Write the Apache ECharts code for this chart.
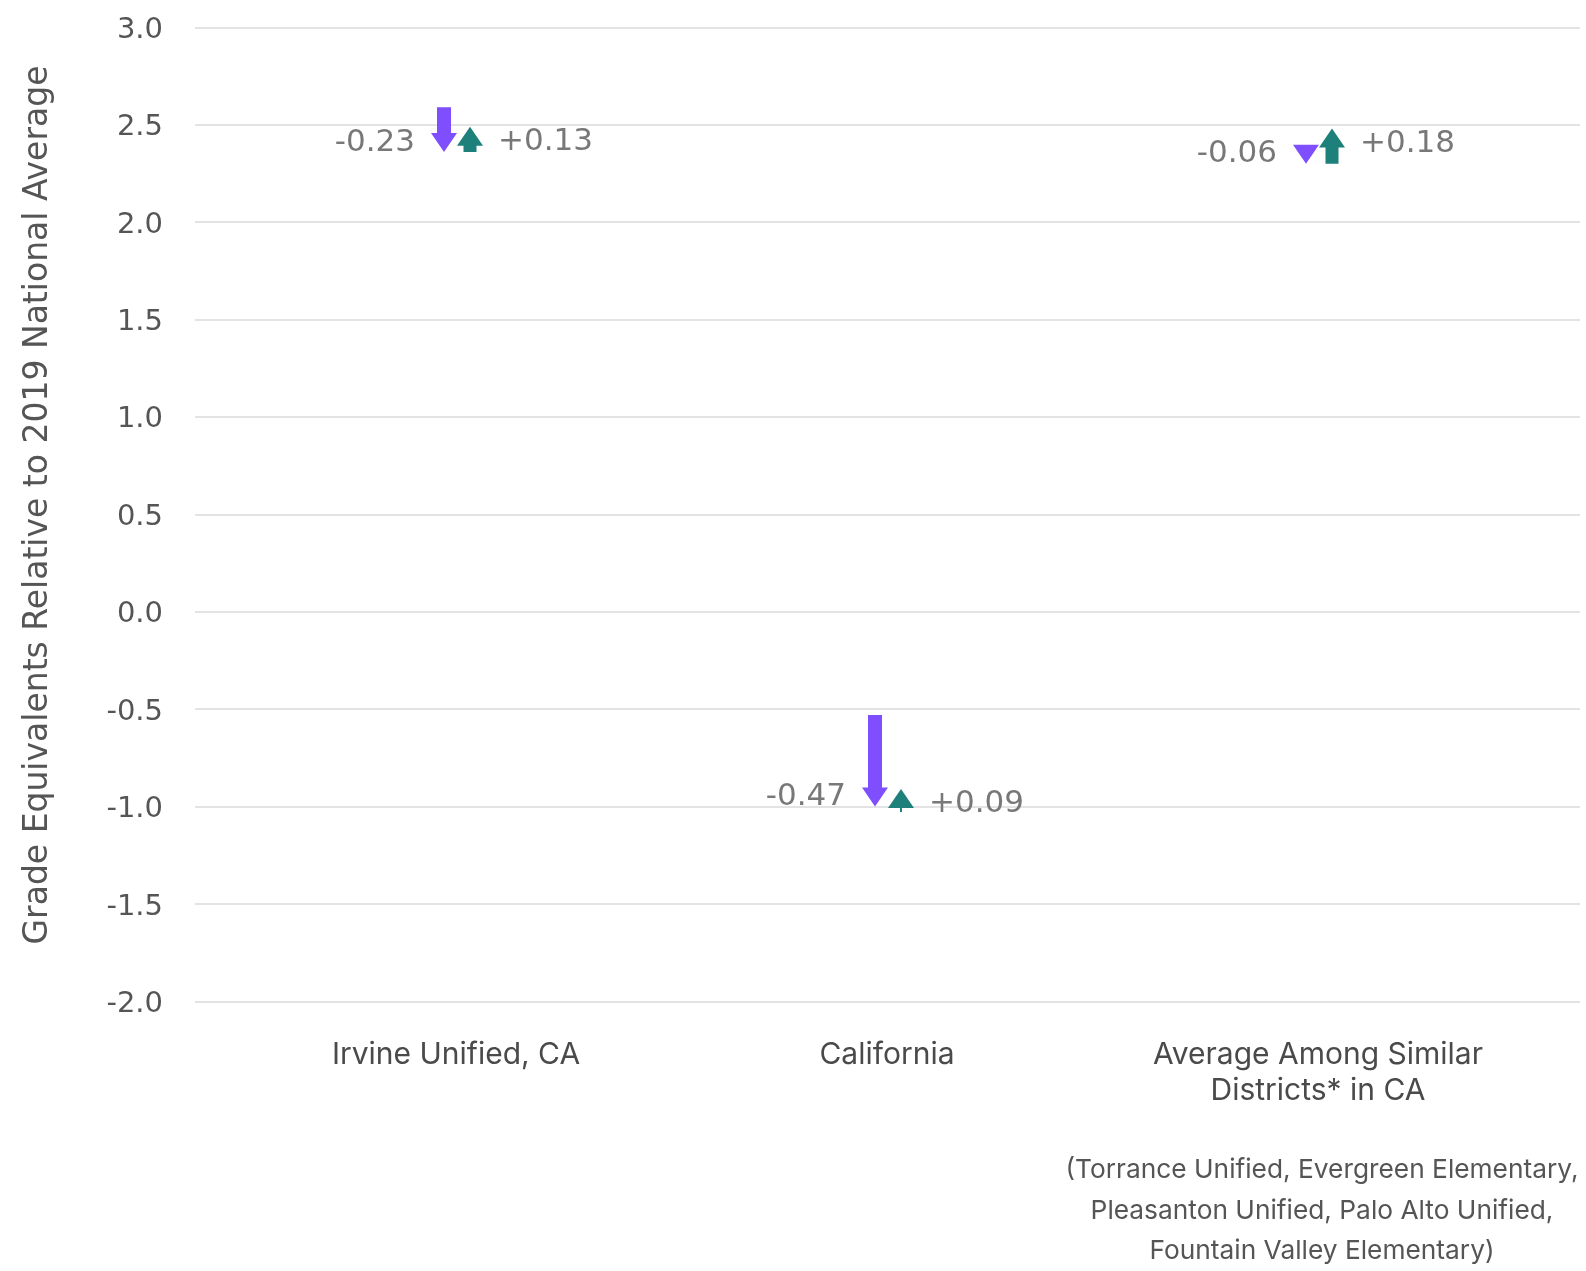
<!DOCTYPE html>
<html>
<head>
<meta charset="utf-8">
<script src="https://cdn.jsdelivr.net/npm/echarts@6/dist/echarts.min.js"></script>
<style>html,body{margin:0;padding:0;background:#fff}#c{width:1586px;height:1271px}</style>
</head>
<body>
<div id="c"></div>
<script>
var categories = ['Irvine Unified, CA', 'California', 'Average Among Similar\nDistricts* in CA'];
var startValues = [2.59, -0.53, 2.36];
var dropValues = [-0.23, -0.47, -0.06];
var recoveryValues = [0.13, 0.09, 0.18];
var yTicks = { min: -2, max: 3, interval: 0.5 };
var footnote = '(Torrance Unified, Evergreen Elementary,\nPleasanton Unified, Palo Alto Unified,\nFountain Valley Elementary)';
var yTitle = 'Grade Equivalents Relative to 2019 National Average';

var PURPLE = '#7F4FFF', TEAL = '#1E807B', LABEL = '#787878';

var data = categories.map(function (c, i) {
  return [i, startValues[i], dropValues[i], recoveryValues[i]];
});

function fmt(v) { return (v > 0 ? '+' : '') + v.toFixed(2); }

function renderItem(params, api) {
  var i = api.value(0);
  var start = api.value(1), drop = api.value(2), rec = api.value(3);
  var mid = start + drop, end = mid + rec;
  var cx = api.coord([i, start])[0];
  var ys = api.coord([i, start])[1];
  var ym = api.coord([i, mid])[1];
  var ye = api.coord([i, end])[1];
  var px = cx - 12, tx = cx + 14;
  var H = 19, HW = 13, SWp = 7, SWt = 6.5;
  var children = [];
  var hb = ym - H;
  var pts;
  if (ys < hb) {
    pts = [[px - SWp, ys], [px + SWp, ys], [px + SWp, hb], [px + HW, hb], [px, ym], [px - HW, hb], [px - SWp, hb]];
  } else {
    pts = [[px + HW, hb], [px, ym], [px - HW, hb]];
  }
  children.push({ type: 'polygon', shape: { points: pts }, style: { fill: PURPLE } });
  var tb = ye + H;
  var tp;
  if (ym > tb) {
    tp = [[tx - SWt, ym], [tx + SWt, ym], [tx + SWt, tb], [tx + HW, tb], [tx, ye], [tx - HW, tb], [tx - SWt, tb]];
  } else {
    tp = [[tx + HW, tb], [tx, ye], [tx - HW, tb]];
    children.push({ type: 'rect', shape: { x: tx - 1, y: tb - 1, width: 2, height: 5 }, style: { fill: TEAL } });
  }
  children.push({ type: 'polygon', shape: { points: tp }, style: { fill: TEAL } });
  children.push({ type: 'text', style: { x: px - 29, y: ym - H / 2, text: fmt(drop), fill: LABEL,
    font: '31px "DejaVu Sans", sans-serif', align: 'right', verticalAlign: 'middle' } });
  children.push({ type: 'text', style: { x: tx + 28, y: ye + H / 2 + 5.5, text: fmt(rec), fill: LABEL,
    font: '31px "DejaVu Sans", sans-serif', align: 'left', verticalAlign: 'middle' } });
  return { type: 'group', children: children };
}

var chart = echarts.init(document.getElementById('c'));
chart.setOption({
  animation: false,
  backgroundColor: '#fff',
  grid: [
    { left: 195, right: 6, top: 27.3, bottom: 269.6 },
    { left: 240.5, right: 52.5, top: 27.3, bottom: 269.6 }
  ],
  xAxis: [
    { gridIndex: 0, type: 'category', data: categories, show: false },
    { gridIndex: 1, type: 'category', data: categories,
      axisLine: { show: false }, axisTick: { show: false }, splitLine: { show: false },
      axisLabel: { margin: 36, color: '#4a4a4a', fontFamily: 'Inter', fontSize: 30, lineHeight: 36, interval: 0 } }
  ],
  yAxis: [
    { gridIndex: 0, type: 'value', min: yTicks.min, max: yTicks.max, interval: yTicks.interval,
      axisLine: { show: false }, axisTick: { show: false },
      splitLine: { lineStyle: { color: '#e3e3e3', width: 2 } },
      axisLabel: { margin: 32, color: '#555555', fontFamily: 'DejaVu Sans', fontSize: 29,
        formatter: function (v) { return '{v|' + v.toFixed(1) + '}'; },
        rich: { v: { fontFamily: 'DejaVu Sans', fontSize: 29, color: '#555555', padding: [6, 0, 0, 0] } } } },
    { gridIndex: 1, type: 'value', min: yTicks.min, max: yTicks.max, interval: yTicks.interval, show: false }
  ],
  graphic: [
    { type: 'text', x: 38, y: 505, rotation: Math.PI / 2,
      style: { text: yTitle, fill: '#555555', font: '33px "DejaVu Sans"', align: 'center', verticalAlign: 'middle' } },
    { type: 'text', x: 1322, y: 1150,
      style: { text: footnote, fill: '#555555', font: '26.3px Inter', align: 'center', verticalAlign: 'top', lineHeight: 40.5 } }
  ],
  series: [
    { type: 'custom', xAxisIndex: 1, yAxisIndex: 1, renderItem: renderItem, data: data,
      encode: { x: 0, y: 1 }, clip: false }
  ]
});
</script>
</body>
</html>
